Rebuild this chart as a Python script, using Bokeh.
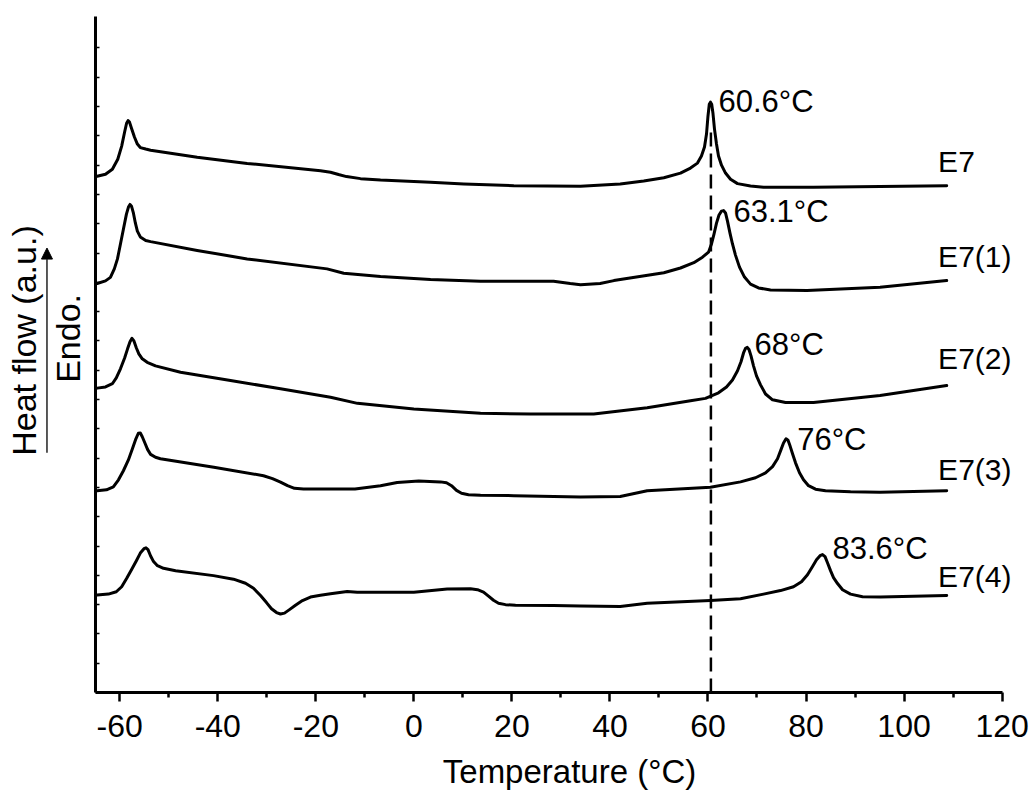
import math
from bokeh.plotting import figure
from bokeh.models import (FixedTicker, Arrow, NormalHead, CustomJSTickFormatter)
from bokeh.core.properties import value
from bokeh.embed import file_html
from bokeh.resources import INLINE

# ---------------- data ----------------
temp_e7 = [-64.6, -62.9, -61.5, -60.4, -59.6, -59.0, -58.6, -58.3, -58.0, -57.6, -57.0, -56.4,
           -55.8, -54.7, -53.7, -44.2, -34.0, -19.04, -17.0, -15.37, -13.74, -10.88, -6.8, 3.4,
           10.2, 20.4, 34.0, 42.1, 46.9, 51.0, 54.39, 56.43, 57.86, 58.67, 59.29, 59.7, 60.0,
           60.27, 60.51, 60.76, 61.02, 61.33, 61.74, 62.15, 62.76, 63.58, 64.6, 66.03, 68.68,
           71.33, 81.5, 95.1, 108.7]
hf_e7 = [17.62, 17.69, 17.86, 18.20, 18.65, 19.13, 19.43, 19.52, 19.47, 19.26, 18.96, 18.72,
         18.60, 18.55, 18.51, 18.27, 18.06, 17.81, 17.76, 17.68, 17.61, 17.54, 17.49, 17.42,
         17.36, 17.30, 17.28, 17.36, 17.46, 17.57, 17.73, 17.90, 18.07, 18.31, 18.62, 19.06, 19.67,
         20.08, 20.15, 20.08, 19.77, 19.23, 18.72, 18.31, 18.00, 17.73, 17.52, 17.37, 17.29,
         17.25, 17.25, 17.27, 17.30]

temp_e7_1 = [-64.6, -62.9, -61.9, -61.1, -60.46, -59.85, -59.24, -58.63, -58.22, -57.9, -57.6,
             -57.2, -56.8, -56.4, -55.8, -54.7, -53.7, -44.2, -34.0, -17.7, -14.3, -6.8, 3.4,
             13.6, 28.5, 31.9, 34.0, 38.0, 40.8, 51.0, 54.39, 57.11, 58.88, 60.11, 60.72, 61.23,
             61.74, 62.25, 62.76, 63.17, 63.58, 63.98, 64.49, 65.0, 65.61, 66.43, 67.45, 68.68,
             70.31, 72.76, 80.2, 95.1, 108.7]
hf_e7_1 = [13.96, 14.05, 14.17, 14.46, 14.80, 15.31, 15.82, 16.33, 16.57, 16.66, 16.60,
           16.36, 16.02, 15.75, 15.55, 15.43, 15.39, 15.09, 14.80, 14.46, 14.31, 14.20, 14.10,
           14.04, 14.04, 13.96, 13.92, 13.96, 14.06, 14.33, 14.49, 14.67, 14.86, 15.03, 15.31, 15.65,
           16.02, 16.30, 16.43, 16.45, 16.37, 16.09, 15.68, 15.31, 14.93, 14.52, 14.18, 13.94,
           13.81, 13.74, 13.72, 13.83, 14.06]

temp_e7_2 = [-64.6, -62.9, -61.5, -60.7, -59.85, -59.0, -58.4, -57.9, -57.5, -57.1, -56.6, -56.1,
             -55.4, -54.4, -52.7, -47.6, -37.4, -27.2, -17.0, -11.5, 0.0, 13.6, 23.8, 36.7, 47.6,
             56.43, 59.49, 62.15, 63.78, 65.0, 66.03, 66.74, 67.25, 67.66, 68.02, 68.37, 68.78,
             69.29, 69.9, 70.72, 71.74, 73.17, 75.82, 81.53, 95.1, 108.7]
hf_e7_2 = [10.39, 10.43, 10.54, 10.74, 11.05, 11.42, 11.73, 11.97, 12.09, 12.00, 11.76, 11.56,
           11.39, 11.27, 11.15, 10.93, 10.65, 10.37, 10.08, 9.87, 9.68, 9.53, 9.51, 9.51, 9.72,
           9.96, 10.04, 10.23, 10.43, 10.67, 10.98, 11.29, 11.59, 11.75, 11.78, 11.71, 11.49,
           11.15, 10.81, 10.50, 10.19, 9.99, 9.90, 9.90, 10.14, 10.48]

temp_e7_3 = [-64.6, -62.7, -61.3, -60.25, -59.25, -58.23, -57.41, -56.7, -56.2, -55.8, -55.4,
             -54.8, -54.3, -53.7, -52.7, -51.7, -40.8, -30.67, -28.84, -27.2, -25.77, -24.35,
             -22.51, -12.0, -6.8, -3.4, 1.0, 5.44, 6.66, 7.68, 8.7, 9.72, 11.15, 13.6, 20.4,
             34.0, 42.1, 47.6, 60.5, 66.64, 69.7, 71.74, 73.17, 74.19, 74.9, 75.41, 75.92, 76.33,
             76.74, 77.25, 77.86, 78.67, 79.49, 80.51, 81.94, 83.98, 89.08, 95.1, 108.7]
hf_e7_3 = [6.89, 6.92, 7.02, 7.26, 7.57, 7.94, 8.32, 8.66, 8.85, 8.86, 8.73,
           8.49, 8.29, 8.13, 8.03, 7.98, 7.69, 7.40, 7.30, 7.18, 7.06, 6.97,
           6.95, 6.95, 7.06, 7.17, 7.22, 7.19, 7.16, 7.06, 6.90, 6.80, 6.75, 6.73, 6.72,
           6.67, 6.69, 6.89, 7.01, 7.19, 7.33, 7.50, 7.71, 7.98, 8.29, 8.52, 8.66, 8.61,
           8.42, 8.15, 7.84, 7.50, 7.26, 7.06, 6.94, 6.89, 6.85, 6.84, 6.89]

temp_e7_4 = [-64.6, -62.3, -60.7, -59.6, -58.6, -57.6, -56.6, -55.8, -55.05, -54.64, -54.23,
             -53.72, -53.1, -52.3, -51.07, -48.6, -40.87, -36.79, -34.34, -32.71, -31.28, -30.06,
             -29.04, -28.02, -27.2, -26.39, -25.37, -24.15, -22.72, -21.09, -19.05, -17.0, -13.6,
             -11.55, 0.0, 6.8, 11.56, 12.98, 14.21, 15.23, 16.25, 17.27, 18.7, 20.74, 28.5, 34.0,
             42.1, 47.6, 60.5, 66.64, 71.33, 74.8, 77.45, 79.08, 80.3, 81.33, 82.14, 82.86, 83.37,
             83.88, 84.38, 85.0, 85.61, 86.43, 87.45, 89.08, 91.53, 95.2, 108.7]
hf_e7_4 = [3.33, 3.36, 3.44, 3.61, 3.89, 4.19, 4.50, 4.76, 4.91, 4.94, 4.88,
           4.67, 4.47, 4.33, 4.24, 4.16, 3.99, 3.87, 3.73, 3.56, 3.31, 3.07,
           2.86, 2.73, 2.68, 2.71, 2.83, 2.98, 3.14, 3.26, 3.32, 3.37, 3.45,
           3.42, 3.42, 3.53, 3.54, 3.51, 3.43, 3.29, 3.15, 3.05, 3.00, 2.98, 2.97, 2.95,
           2.94, 3.05, 3.14, 3.20, 3.36, 3.48, 3.61, 3.78, 4.02, 4.30, 4.53, 4.67, 4.71,
           4.64, 4.43, 4.16, 3.92, 3.72, 3.51, 3.36, 3.27, 3.26, 3.31]

sample_names = ["E7", "E7(1)", "E7(2)", "E7(3)", "E7(4)"]
peak_labels = ["60.6°C", "63.1°C", "68°C", "76°C", "83.6°C"]
ref_peak_temp = 60.6

x_major_ticks = [-60, -40, -20, 0, 20, 40, 60, 80, 100, 120]
x_minor_ticks = [-50, -30, -10, 10, 30, 50, 70, 90, 110]
y_ticks = list(range(0, 23))

# annotation anchor positions (data units)
peak_label_x = [62.15, 65.2, 69.5, 78.2, 85.4]
peak_label_y = [20.165, 16.405, 11.885, 8.625, 4.905]
name_x = [106.95] * 5
name_y = [18.115, 14.875, 11.415, 7.605, 3.965]

# ---------------- figure ----------------
FONT = "Liberation Sans"
p = figure(width=1029, height=794, x_range=(-84.32, 125.59), y_range=(-3.48, 23.62),
           output_backend="svg", toolbar_location=None,
           min_border_left=0, min_border_right=0, min_border_top=0, min_border_bottom=0)
p.outline_line_color = None
p.xgrid.visible = False
p.ygrid.visible = False
p.background_fill_color = "white"
p.border_fill_color = "white"

xa = p.xaxis[0]
xa.fixed_location = 0
xa.bounds = (-65, 120)
xa.ticker = FixedTicker(ticks=x_major_ticks, minor_ticks=x_minor_ticks)
xa.formatter = CustomJSTickFormatter(code="return tick.toString()")
xa.axis_line_width = 3
xa.axis_line_color = "black"
xa.major_tick_line_width = 2.5
xa.minor_tick_line_width = 2.5
xa.major_tick_line_color = "black"
xa.minor_tick_line_color = "black"
xa.major_tick_out = 9
xa.major_tick_in = 0
xa.minor_tick_out = 5
xa.minor_tick_in = 0
xa.major_label_text_font = FONT
xa.major_label_text_font_size = "32px"
xa.major_label_text_color = "black"
xa.major_label_standoff = 13

ya = p.yaxis[0]
ya.fixed_location = -65
ya.bounds = (0, 23.08)
ya.ticker = FixedTicker(ticks=y_ticks, minor_ticks=[])
ya.formatter = CustomJSTickFormatter(code="return ''")
ya.axis_line_width = 3
ya.axis_line_color = "black"
ya.major_tick_in = 4
ya.major_tick_out = 0
ya.major_tick_line_width = 1.5
ya.major_tick_line_color = "black"
ya.minor_tick_line_color = None

# curves
for tx, hy in [(temp_e7, hf_e7), (temp_e7_1, hf_e7_1), (temp_e7_2, hf_e7_2),
               (temp_e7_3, hf_e7_3), (temp_e7_4, hf_e7_4)]:
    p.line(tx, hy, line_color="black", line_width=3, line_join="round", line_cap="round")

# dashed reference line at E7 peak
p.line([ref_peak_temp, ref_peak_temp], [0, 19.2], line_color="black", line_width=2.5,
       line_dash="14 7")

# peak temperature labels
p.text(x=peak_label_x, y=peak_label_y, text=peak_labels,
       text_font=value(FONT), text_font_size=value("31px"), text_color="black",
       text_align="left", text_baseline="alphabetic")

# sample names
p.text(x=name_x, y=name_y, text=sample_names,
       text_font=value(FONT), text_font_size=value("30px"), text_color="black",
       text_align="left", text_baseline="alphabetic")

# axis titles
p.text(x=[31.75], y=[-2.69], text=["Temperature (°C)"],
       text_font=value(FONT), text_font_size=value("33px"), text_color="black",
       text_align="center", text_baseline="alphabetic")
p.text(x=[-79.43], y=[8.08], text=["Heat flow (a.u.)"], angle=math.pi / 2,
       text_font=value(FONT), text_font_size=value("34px"), text_color="black",
       text_align="left", text_baseline="alphabetic")
p.text(x=[-70.52], y=[10.57], text=["Endo."], angle=math.pi / 2,
       text_font=value(FONT), text_font_size=value("34px"), text_color="black",
       text_align="left", text_baseline="alphabetic")
p.add_layout(Arrow(x_start=-74.84, y_start=8.18, x_end=-74.84, y_end=15.17,
                   line_color="#222222", line_width=1.5,
                   end=NormalHead(size=11, fill_color="black", line_color="black",
                                  line_width=1)))

open("out.html", "w").write(file_html(p, INLINE))
